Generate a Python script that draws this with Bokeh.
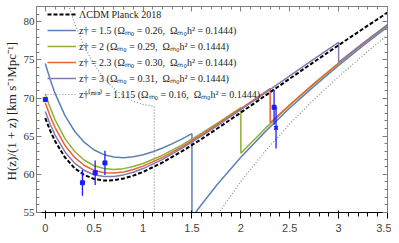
from bokeh.plotting import figure
from bokeh.models import (LinearAxis, SingleIntervalTicker, Legend, LegendItem,
                          CustomLabelingPolicy)
from bokeh.embed import file_html
from bokeh.resources import INLINE

# ---------------- data ----------------
z_lcdm = [0, 0.05, 0.1, 0.2, 0.3, 0.4, 0.5, 0.6, 0.7, 0.8, 0.9, 1.0, 1.2, 1.4,
          1.6, 1.8, 2.0, 2.25, 2.5, 2.75, 3.0, 3.25, 3.5]
H_lcdm = [67.36, 65.73, 64.35, 62.24, 60.81, 59.90, 59.39, 59.19, 59.22, 59.45,
          59.83, 60.32, 61.56, 63.04, 64.65, 66.36, 68.10, 70.32, 72.54, 74.75,
          76.93, 79.08, 81.20]

z_15 = [0, 0.05, 0.1, 0.2, 0.3, 0.4, 0.5, 0.6, 0.7, 0.8, 0.9, 1.0, 1.1, 1.2, 1.3,
        1.4, 1.5, 1.5, 1.55, 1.6, 1.75, 2.0, 2.25, 2.5, 2.75, 3.0, 3.25, 3.5]
H_15 = [74.53, 72.42, 70.61, 67.73, 65.65, 64.18, 63.19, 62.58, 62.27, 62.19,
        62.31, 62.57, 62.96, 63.45, 64.02, 64.65, 65.33, 54.34, 55.23, 56.09,
        58.55, 62.25, 65.60, 68.69, 71.57, 74.29, 76.87, 79.34]

z_20 = [0, 0.05, 0.1, 0.2, 0.3, 0.4, 0.5, 0.6, 0.7, 0.8, 0.9, 1.0, 1.2, 1.4, 1.6,
        1.8, 2.0, 2.0, 2.25, 2.5, 2.75, 3.0, 3.25, 3.5]
H_20 = [70.56, 68.72, 67.16, 64.71, 63.00, 61.85, 61.13, 60.76, 60.65, 60.75,
        61.02, 61.42, 62.51, 63.87, 65.40, 67.04, 68.74, 62.76, 66.02, 69.03,
        71.86, 74.53, 77.08, 79.52]

z_23 = [0, 0.05, 0.1, 0.2, 0.3, 0.4, 0.5, 0.6, 0.7, 0.8, 0.9, 1.0, 1.2, 1.4, 1.6,
        1.8, 2.0, 2.3, 2.3, 2.5, 2.75, 3.0, 3.25, 3.5]
H_23 = [69.38, 67.62, 66.13, 63.82, 62.22, 61.16, 60.53, 60.22, 60.17, 60.32,
        60.64, 61.08, 62.23, 63.64, 65.21, 66.88, 68.60, 71.24, 66.75, 69.13,
        71.94, 74.60, 77.14, 79.57]

z_30 = [0, 0.05, 0.1, 0.2, 0.3, 0.4, 0.5, 0.6, 0.7, 0.8, 0.9, 1.0, 1.2, 1.4, 1.6,
        1.8, 2.0, 2.25, 2.5, 2.75, 3.0, 3.0, 3.25, 3.5]
H_30 = [68.25, 66.57, 65.15, 62.97, 61.47, 60.51, 59.95, 59.72, 59.72, 59.93,
        60.28, 60.76, 61.97, 63.43, 65.04, 66.73, 68.48, 70.69, 72.91, 75.12,
        77.31, 74.67, 77.20, 79.62]

z_min = [0.1, 0.2, 0.3, 0.4, 0.5, 0.6, 0.7, 0.8, 0.9, 1.0, 1.115, 1.115, 1.75,
         2.0, 2.25, 2.5, 2.75, 3.0, 3.25, 3.5]
H_min = [88.62, 83.65, 79.77, 76.74, 74.40, 72.61, 71.26, 70.28, 69.60, 69.16,
         68.91, 36.87, 54.49, 59.07, 63.05, 66.60, 69.83, 72.82, 75.61, 78.25]

obs_z = [0.0, 0.38, 0.51, 0.61, 2.34]
obs_H = [69.8, 58.9, 60.2, 61.5, 68.8]
obs_err = [0.0, 1.7, 1.6, 1.6, 2.3]
obs2_z = [2.36]
obs2_H = [66.1]
obs2_err = [2.7]

x_ticks = [0, 0.5, 1, 1.5, 2, 2.5, 3, 3.5]
x_tick_labels = ["0", "0.5", "1", "1.5", "2", "2.5", "3", "3.5"]

labels = [
    "ΛCDM Planck 2018",
    "z† = 1.5 (Ωₘ₀ = 0.26,  Ωₘ₀h² = 0.1444)",
    "z† = 2 (Ωₘ₀ = 0.29,  Ωₘ₀h² = 0.1444)",
    "z† = 2.3 (Ωₘ₀ = 0.30,  Ωₘ₀h² = 0.1444)",
    "z† = 3 (Ωₘ₀ = 0.31,  Ωₘ₀h² = 0.1444)",
    "z†⁽ᵐⁱⁿ⁾ = 1.115 (Ωₘ₀ = 0.16,  Ωₘ₀h² = 0.1444)",
]

# ---------------- figure (383 x 227 total, fits the window) ----------------
FONT = "Liberation Serif"
AX = "#7f7f7f"
B_TOP, B_BOT, B_LEFT, B_RIGHT = 2, 19, 29, 3
FRAME_W = 383 - B_LEFT - B_RIGHT
FRAME_H = 227 - B_TOP - B_BOT

p = figure(frame_width=FRAME_W, frame_height=FRAME_H,
           x_range=(-0.09, 3.5), y_range=(55, 82),
           output_backend="svg", toolbar_location=None,
           min_border_left=B_LEFT, min_border_right=B_RIGHT,
           min_border_top=B_TOP, min_border_bottom=B_BOT)
p.grid.visible = False
p.outline_line_color = None
p.background_fill_color = "white"
p.border_fill_color = "white"

xt = SingleIntervalTicker(interval=0.5, num_minor_ticks=5)
yt = SingleIntervalTicker(interval=5, num_minor_ticks=5)
p.xaxis.ticker = xt
p.yaxis.ticker = yt
p.xaxis.major_label_overrides = dict(zip(x_ticks, x_tick_labels))

hide = "for (const i of indices) { indices.unset(i) }\nreturn indices"
top = LinearAxis(ticker=xt, major_label_policy=CustomLabelingPolicy(code=hide))
right = LinearAxis(ticker=yt, major_label_policy=CustomLabelingPolicy(code=hide))
p.add_layout(top, "above")
p.add_layout(right, "right")

for ax in [p.xaxis[0], p.yaxis[0], top, right]:
    ax.axis_line_color = AX
    ax.major_tick_line_color = AX
    ax.minor_tick_line_color = AX
    ax.major_tick_in = 5
    ax.major_tick_out = 0
    ax.minor_tick_in = 3
    ax.minor_tick_out = 0
    ax.major_label_text_font = FONT
    ax.major_label_text_font_size = "11px"
    ax.major_label_text_color = "#333333"
    ax.major_label_standoff = 3
    ax.axis_label_standoff = 0

for ax in [top, right]:
    ax.major_label_text_font_size = "1px"
    ax.major_label_standoff = 0

p.xaxis[0].major_label_standoff = 2

p.yaxis[0].axis_label = "H(z)/(1 + z)  [km s⁻¹Mpc⁻¹]"
p.yaxis[0].axis_label_text_font = FONT
p.yaxis[0].axis_label_text_font_size = "13px"
p.yaxis[0].axis_label_text_font_style = "normal"
p.yaxis[0].axis_label_text_color = "#222222"
p.yaxis[0].axis_label_standoff = 2
p.yaxis[0].major_label_standoff = 2

# ---------------- curves ----------------
r_min = p.line(z_min, H_min, line_color="#8c8c8c", line_width=1.2, line_dash="1 2")
r15 = p.line(z_15, H_15, line_color="#5E81B5", line_width=1.5)
r20 = p.line(z_20, H_20, line_color="#8FB032", line_width=1.5)
r23 = p.line(z_23, H_23, line_color="#EB6235", line_width=1.5)
r30 = p.line(z_30, H_30, line_color="#8778B3", line_width=1.5)
r_l = p.line(z_lcdm, H_lcdm, line_color="black", line_width=2, line_dash="4 2")

# ---------------- observations ----------------
lo = [h - e for h, e in zip(obs_H, obs_err)]
hi = [h + e for h, e in zip(obs_H, obs_err)]
p.segment(obs_z, lo, obs_z, hi, line_color="#1a1aff", line_width=1.3)
p.scatter(obs_z, obs_H, marker="square", size=4, fill_color="#1a1aff",
          line_color="#1a1aff")
lo2 = [h - e for h, e in zip(obs2_H, obs2_err)]
hi2 = [h + e for h, e in zip(obs2_H, obs2_err)]
p.segment(obs2_z, lo2, obs2_z, hi2, line_color="#1a1aff", line_width=1.3)
p.scatter(obs2_z, obs2_H, marker="x", size=5, line_color="#1a1aff", line_width=1.8)

# ---------------- legend ----------------
ROW_H, GAP, N = 14, 2, len(labels)
LEG_H = N * ROW_H + (N - 1) * GAP
items = [LegendItem(label=l, renderers=[r]) for l, r in
         zip(labels, [r_l, r15, r20, r23, r30, r_min])]
leg = Legend(items=items, location=(11, FRAME_H - LEG_H - 1), padding=0, margin=0,
             spacing=GAP, glyph_width=29, glyph_height=ROW_H, label_height=ROW_H,
             label_standoff=3, label_text_font=FONT,
             label_text_font_size="10px", label_text_color="#222222",
             background_fill_alpha=0, border_line_color=None)
p.add_layout(leg, "center")

open("out.html", "w").write(file_html(p, INLINE))
